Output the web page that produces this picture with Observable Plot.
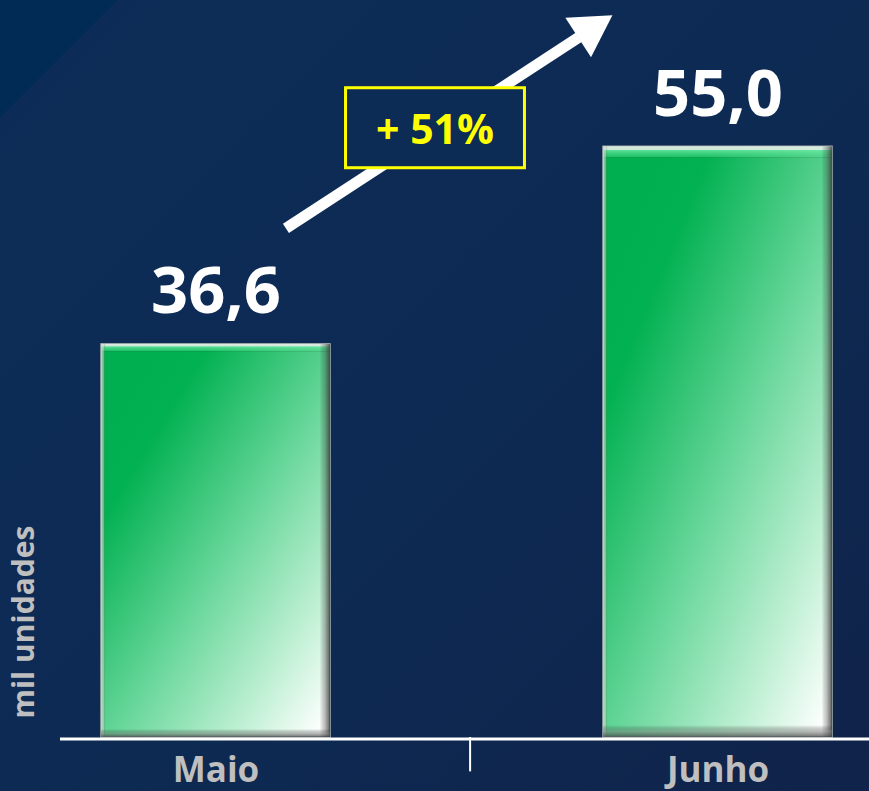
<!DOCTYPE html>
<html><head><meta charset="utf-8">
<script src="https://cdn.jsdelivr.net/npm/d3@7"></script>
<script src="https://cdn.jsdelivr.net/npm/@observablehq/plot@0.6"></script>
<style>
html,body{margin:0;padding:0;}
body{width:869px;height:791px;overflow:hidden;background:
 linear-gradient(135deg,#012a55 0px,#012a55 83px,rgba(0,0,0,0) 83px),
 linear-gradient(135deg,#0c2c57 0%,#0d2a53 55%,#10234a 100%);}
svg{display:block;}
</style></head><body><div id="chart"></div><script>
// ---- data ----
const months = ["Maio", "Junho"];
const sales = [36.6, 55.0];               // mil unidades
const valueLabels = ["36,6", "55,0"];
const yLabel = "mil unidades";
const growthLabel = "+ 51%";
const growthArrow = [{from: "Maio", to: "Junho", y1: 43.15, y2: 73.65}];
const growthLabelPos = [{x: "Maio", y: 56.6, text: growthLabel}];

const data = months.map((m, i) => ({month: m, value: sales[i], label: valueLabels[i]}));

const xRange = [60, 873], padIn = 0.543, padOut = 0.08;
const step = (xRange[1] - xRange[0]) / (months.length - padIn + 2 * padOut);

const chart = Plot.plot({
  width: 869, height: 791,
  marginTop: 0, marginLeft: 60, marginRight: 0, marginBottom: 54,
  style: {background: "transparent", fontFamily: "'Open Sans', sans-serif", overflow: "visible"},
  x: {domain: months, range: xRange, paddingInner: padIn, paddingOuter: padOut, label: null},
  y: {domain: [0, 60], range: [737, 92.6], axis: null},
  marks: [
    Plot.barY(data, {x: "month", y: "value", fill: "url(#barFill)", stroke: "#a9b3ad", strokeWidth: 1.5}),
    Plot.barY(data, {x: "month", y: "value", fill: "url(#bevelTop)"}),
    Plot.barY(data, {x: "month", y: "value", fill: "url(#bevelSide)"}),
    Plot.barY(data, {x: "month", y: "value", fill: "url(#bevelBottom)"}),
    Plot.ruleY([0], {stroke: "white", strokeWidth: 3, dy: 1.5}),
    Plot.ruleX([months[1]], {x: d => d, y1: 0, y2: -3.2, dx: -step / 2 + 3.5, stroke: "white", strokeWidth: 2}),
    Plot.axisX({tickSize: 0, tickPadding: 20, fontSize: 35, fontWeight: "bold", fill: "#bfbfbf", label: null}),
    Plot.text(data, {x: "month", y: "value", text: "label", dy: -31, lineAnchor: "bottom",
      fontSize: 65, fontWeight: "bold", fill: "white"}),
    Plot.arrow(growthArrow, {x1: "from", y1: "y1", x2: "to", y2: "y2", stroke: "white", strokeWidth: 11,
      strokeLinecap: "butt", headLength: 0, insetStart: 83.5, insetEnd: 166.4}),
    Plot.dot(growthArrow, {x: "to", y: "y2", symbol: "triangle", r: 17.5, rotate: 57, fill: "white",
      stroke: "none", dx: -128.4, dy: 83.6}),
    Plot.text(growthLabelPos, {x: "x", y: "y", text: "text", dx: 219, dy: 1, fontSize: 41, fontWeight: "bold",
      fill: "#ffff00", className: "growth"}),
    Plot.text([yLabel], {frameAnchor: "bottom-left", text: d => d, rotate: -90, textAnchor: "start",
      dx: -27, dy: -19, fontSize: 30, fontWeight: "bold", fill: "#bfbfbf"})
  ]
});

document.getElementById("chart").appendChild(chart);
const svg = chart.tagName.toLowerCase() === "svg" ? chart : chart.querySelector("svg");
const defs = d3.select(svg).insert("defs", ":first-child");
function grad(id, attrs, stops) {
  const g = defs.append("linearGradient").attr("id", id);
  for (const k in attrs) g.attr(k, attrs[k]);
  for (const [o, c] of stops) g.append("stop").attr("offset", o).attr("stop-color", c);
}
grad("barFill", {x1: 0.1, y1: 0.1, x2: 0.95, y2: 1}, [
  [0, "#00b050"], [0.15, "#02b151"], [0.5, "#66d699"], [0.8, "#c0f0d4"], [1, "#ffffff"]]);
grad("bevelTop", {x1: 0, y1: 0, x2: 0, y2: 1}, [
  [0, "rgba(225,238,230,0.95)"], [0.006, "rgba(225,238,230,0.9)"], [0.007, "rgba(110,235,165,0.8)"],
  [0.018, "rgba(80,220,140,0.4)"], [0.02, "rgba(0,0,0,0)"], [1, "rgba(0,0,0,0)"]]);
grad("bevelSide", {x1: 0, y1: 0, x2: 1, y2: 0}, [
  [0, "rgba(205,210,205,0.9)"], [0.012, "rgba(205,215,205,0.4)"], [0.02, "rgba(0,0,0,0)"],
  [0.955, "rgba(0,0,0,0)"], [0.975, "rgba(60,60,60,0.3)"], [1, "rgba(40,40,40,0.75)"]]);
grad("bevelBottom", {x1: 0, y1: 0, x2: 0, y2: 1}, [
  [0, "rgba(0,0,0,0)"], [0.98, "rgba(0,0,0,0)"], [0.99, "rgba(110,110,110,0.45)"], [1, "rgba(60,60,60,0.75)"]]);

// box around the growth label
const gEl = svg.querySelector("g.growth");
if (gEl) {
  const t = gEl.querySelector("text");
  const sb = svg.getBoundingClientRect(), tb = t.getBoundingClientRect();
  const cx = tb.x + tb.width / 2 - sb.x, cy = tb.y + tb.height / 2 - sb.y;
  const w = tb.width + 61, h = 80;
  d3.select(svg).insert("rect", "g.growth")
    .attr("x", cx - w / 2).attr("y", cy - h / 2).attr("width", w).attr("height", h)
    .attr("fill", "#0c2b55").attr("stroke", "#ffff00").attr("stroke-width", 3);
}
</script></body></html>
